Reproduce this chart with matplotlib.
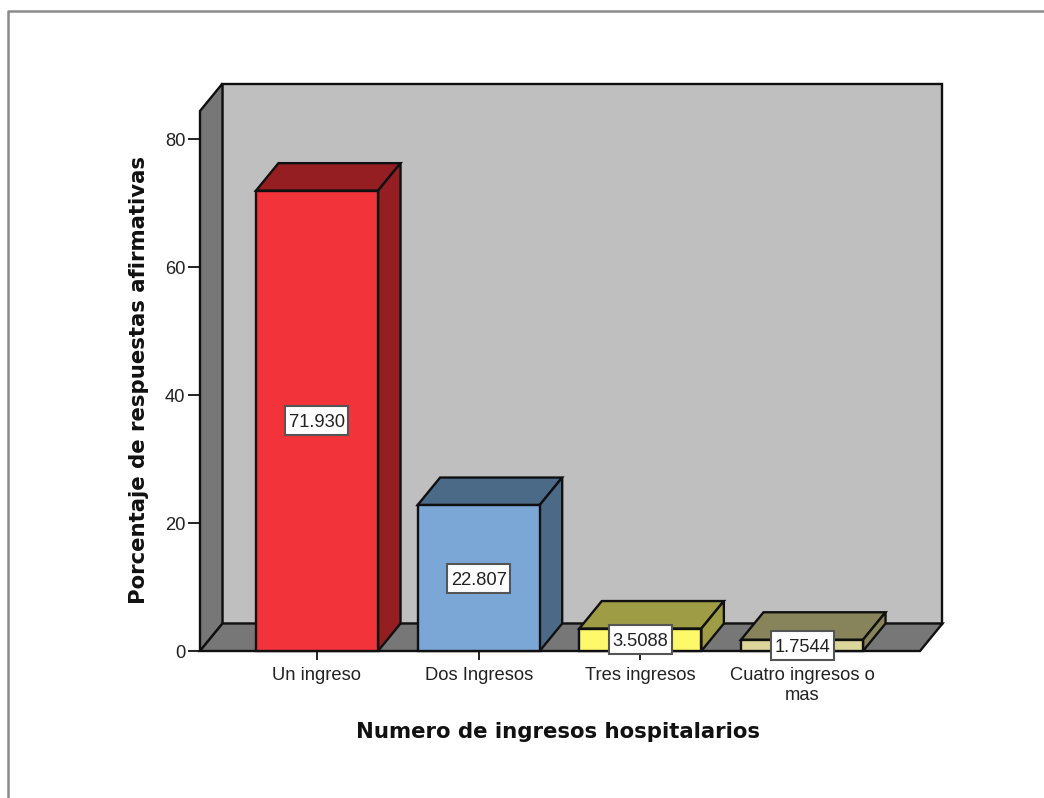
import matplotlib
matplotlib.use("Agg")
import matplotlib.pyplot as plt
from matplotlib.patches import Polygon, Rectangle

# Survey results per number of hospital admissions
categories = ["Un ingreso", "Dos Ingresos", "Tres ingresos", "Cuatro ingresos o\nmas"]
values = [71.930, 22.807, 3.5088, 1.7544]
value_labels = ["71.930", "22.807", "3.5088", "1.7544"]
y_ticks = [0, 20, 40, 60, 80]

front_colors = ["#F2333A", "#7BA7D6", "#FDF96B", "#DCD69B"]
shade_colors = ["#951E22", "#4B6A88", "#9E9C45", "#87845C"]

WIDTH, HEIGHT = 1044, 798
BAR_WIDTH = 0.755
PX_X = 161.67  # pixels per category
PX_Y = 6.4     # pixels per percentage point
DX = 22.5 / PX_X
DY = 27.5 / PX_Y
LW = 1.7
LABEL_SIZE = 13.2


def add_poly(ax, pts, color, zorder):
    ax.add_patch(Polygon(pts, closed=True, facecolor=color, edgecolor="#101010",
                         linewidth=LW, joinstyle="miter", clip_on=False, zorder=zorder))


fig = plt.figure(figsize=(WIDTH / 100, HEIGHT / 100), dpi=100)
fig.patch.set_facecolor("white")

# outer frame, only top and left edges are visible
fig.add_artist(plt.Line2D([8 / WIDTH, 8 / WIDTH, 1], [0, 1 - 11 / HEIGHT, 1 - 11 / HEIGHT],
                          color="#8a8a8a", linewidth=1.8))

left, right, top, bottom = 200, 920, 111, 651
ax = fig.add_axes([left / WIDTH, 1 - bottom / HEIGHT, (right - left) / WIDTH, (bottom - top) / HEIGHT])
x0 = -(317 - left) / PX_X
x1 = 3 + (right - 802) / PX_X
ymax = (bottom - top) / PX_Y
ax.set_xlim(x0, x1)
ax.set_ylim(0, ymax)
ax.patch.set_visible(False)
for s in ax.spines.values():
    s.set_visible(False)

# back wall, side wall and floor of the box
add_poly(ax, [(x0 + DX, DY), (x1 + DX, DY), (x1 + DX, ymax + DY), (x0 + DX, ymax + DY)], "#BFBFBF", 1)
add_poly(ax, [(x0, 0), (x0 + DX, DY), (x0 + DX, ymax + DY), (x0, ymax)], "#777777", 2)
add_poly(ax, [(x0, 0), (x1, 0), (x1 + DX, DY), (x0 + DX, DY)], "#777777", 2)

for i, v in enumerate(values):
    l, r = i - BAR_WIDTH / 2, i + BAR_WIDTH / 2
    add_poly(ax, [(l, v), (r, v), (r + DX, v + DY), (l + DX, v + DY)], shade_colors[i], 3)
    add_poly(ax, [(r, 0), (r + DX, DY), (r + DX, v + DY), (r, v)], shade_colors[i], 3)
    add_poly(ax, [(l, 0), (r, 0), (r, v), (l, v)], front_colors[i], 4)

ax.set_xticks(range(len(categories)), categories)
ax.set_yticks(y_ticks)
ax.tick_params(axis="x", length=6.5, width=1.4, pad=5, labelsize=LABEL_SIZE, labelcolor="#222222", color="#222222")
ax.tick_params(axis="y", length=8.5, width=1.4, pad=2, labelsize=LABEL_SIZE, labelcolor="#222222", color="#222222")
for t in ax.get_xticklabels() + ax.get_yticklabels():
    t.set_fontfamily("Liberation Sans")
    t.set_linespacing(1.25)

# value boxes at the middle of each bar
box_w, box_h = 63 / PX_X, 29 / PX_Y
for i, v in enumerate(values):
    ax.add_patch(Rectangle((i - box_w / 2, v / 2 - box_h / 2), box_w, box_h, facecolor="white",
                           edgecolor="#555555", linewidth=1.5, clip_on=False, zorder=6))
    ax.text(i, v / 2, value_labels[i], ha="center", va="center_baseline", fontsize=LABEL_SIZE,
            family="Liberation Sans", color="#222222", zorder=7, clip_on=False)

fig.text(558.5 / WIDTH, 1 - 732 / HEIGHT, "Numero de ingresos hospitalarios", ha="center", va="center",
         fontsize=15.3, fontweight="bold", family="DejaVu Sans", color="#111111")
fig.text(139 / WIDTH, 1 - 380 / HEIGHT, "Porcentaje de respuestas afirmativas", ha="center", va="center",
         rotation=90, fontsize=15.3, fontweight="bold", family="DejaVu Sans", color="#111111")

fig.savefig("out.png", dpi=100)
